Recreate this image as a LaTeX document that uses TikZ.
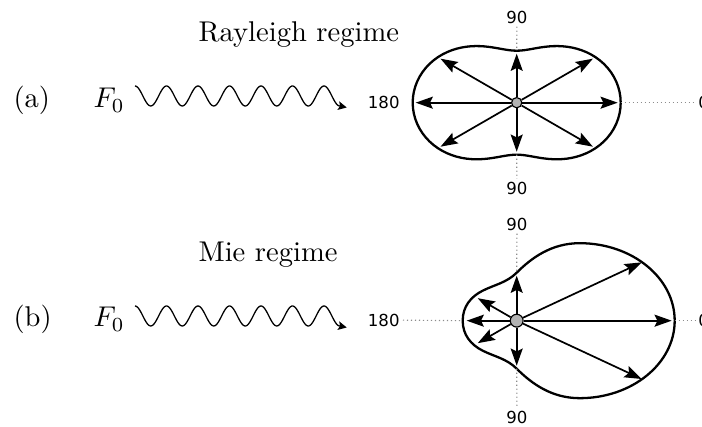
\documentclass[tikz,border=0pt]{standalone}
\usepackage{fontspec}
\newfontfamily\degsans{DejaVu Sans}
\usepackage{tikz}
\usetikzlibrary{arrows.meta,calc}

\begin{document}
\begin{tikzpicture}[x=0.35pt, y=0.35pt,
    curve/.style={line width=0.8pt},
    ray/.style={line width=0.6pt, -{Stealth[length=6pt, width=4.2pt, inset=1pt]}},
    wave/.style={line width=0.45pt, -{Stealth[length=3pt, width=3pt, inset=0.6pt]}},
    axis/.style={black!45, densely dotted, line width=0.4pt},
    deg/.style={font=\degsans\fontsize{5.8}{7}\selectfont, inner sep=1pt},
    txt/.style={anchor=base west, inner sep=0pt},
    dot/.style={circle, draw, fill=black!30, line width=0.4pt, inner sep=0pt, minimum size=#1}]
  \useasboundingbox (0,0) rectangle (702,427);
  % titles and row labels
  \node[txt] (ttla) at (198,385) {Rayleigh regime};
  \node[txt] (ttlb) at (198,165) {Mie regime};
  \node[txt] (lbla) at (13,319) {(a)};
  \node[txt] (lblb) at (13,100) {(b)};
  \node[txt] (fa) at (93,319) {$F_0$};
  \node[txt] (fb) at (93,100) {$F_0$};
  % incoming waves
  \coordinate (wa) at (135,331);
  \coordinate (wb) at (135,111);
  \foreach \w in {wa,wb}
    \draw[wave, shift={(\w)}] plot[domain=0:204.75, samples=180, smooth] (\x,{10*cos(\x/31.5*360)})
      -- ++(7,-1.5);
  % scattering centres
  \node[dot=3.6pt] (oa) at (516.7,324.3) {};
  \node[dot=4.5pt] (ob) at (516.7,106.3) {};
  % (a) Rayleigh pattern
  \draw[curve, shift={(oa.center)}] plot[domain=0:360, samples=121]
    ({52*(1+cos(\x)^2)*cos(\x)}, {52*(1+cos(\x)^2)*sin(\x)}) -- cycle;
  \foreach \a in {0,30,90,150,180,210,270,330}
    \draw[ray] (oa) -- ++(\a:{52*(1+cos(\a)^2)-3});
  % (b) Mie pattern
  \draw[curve, shift={(ob.center)}] (-54,0)
    .. controls (-54,14) and (-46,24) .. (-34,30)
    .. controls (-22,36) and (-10,38) .. (0,48)
    .. controls (15,63) and (35,77.5) .. (63,77.5)
    arc[start angle=90, end angle=-90, x radius=95, y radius=77.5]
    .. controls (35,-77.5) and (15,-63) .. (0,-48)
    .. controls (-10,-38) and (-22,-36) .. (-34,-30)
    .. controls (-46,-24) and (-54,-14) .. (-54,0) -- cycle;
  \foreach \a/\r in {0/155,25/138,-25/138,90/45,-90/45,180/50,150/45,-150/45}
    \draw[ray] (ob) -- ++(\a:\r);
  % angle marks
  \coordinate (ata) at (516.7,376.3);
  \coordinate (aba) at (516.7,272.3);
  \coordinate (ara) at (620.7,324.3);
  \coordinate (atb) at (516.7,154.3);
  \coordinate (abb) at (516.7,58.3);
  \coordinate (alb) at (462.7,106.3);
  \coordinate (arb) at (674.7,106.3);
  \node[deg] (nta) at (517,410) {90};
  \node[deg] (nba) at (517,238.5) {90};
  \node[deg, anchor=east] (nla) at (403,325) {180};
  \node[deg, anchor=west] (nra) at (695,324.3) {0};
  \node[deg] (ntb) at (517,203) {90};
  \node[deg] (nbb) at (517,10) {90};
  \node[deg, anchor=east] (nlb) at (403,107) {180};
  \node[deg, anchor=west] (nrb) at (695,106.3) {0};
  \draw[axis] (nta) -- (ata);
  \draw[axis] (aba) -- (nba);
  \draw[axis] (ara) -- (nra);
  \draw[axis] (ntb) -- (atb);
  \draw[axis] (abb) -- (nbb);
  \draw[axis] (nlb) -- (alb);
  \draw[axis] (arb) -- (nrb);
\end{tikzpicture}
\end{document}
